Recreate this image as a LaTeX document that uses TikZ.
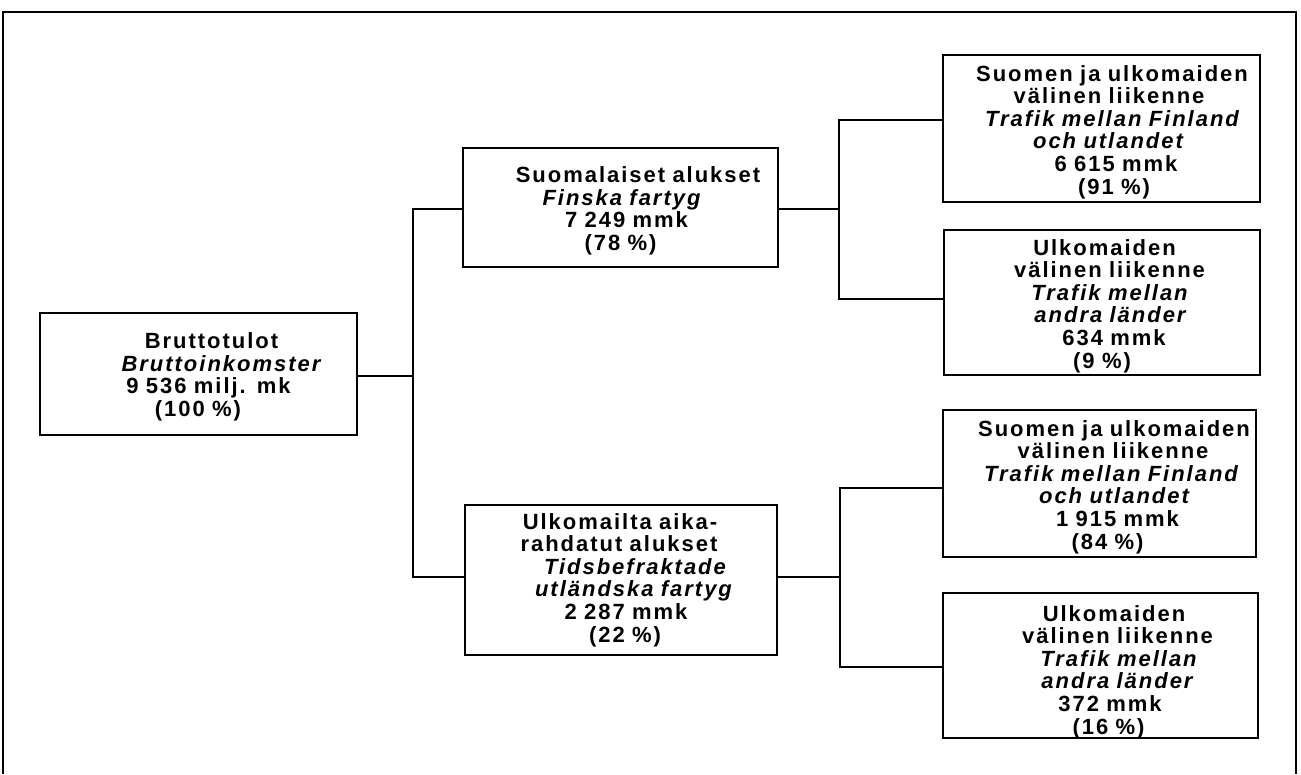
\documentclass[tikz,border=0pt]{standalone}
\usepackage{fontspec}
\setmainfont{Liberation Sans}[LetterSpace=9]
\newcommand{\sh}[2]{{\hspace*{#1pt}#2}}
\begin{document}
\begin{tikzpicture}[x=1pt,y=-1pt,
  boxnode/.style={draw, line width=2.6pt, inner sep=0pt},
  txt/.style={text width=330pt, align=center, inner sep=0pt,
    font=\fontsize{22}{22.6}\selectfont\bfseries},
  conn/.style={line width=2pt}]
\useasboundingbox (0,0) rectangle (1301,774);
\draw[line width=2pt] (3,774) -- (3,12) -- (1296,12) -- (1296,774);
% boxes
\node[boxnode, minimum width=317pt, minimum height=122pt] (root) at (198.5,374) {};
\node[boxnode, minimum width=315pt, minimum height=119pt] (mid1) at (620.5,207.5) {};
\node[boxnode, minimum width=312pt, minimum height=150pt] (mid2) at (621,580) {};
\node[boxnode, minimum width=317pt, minimum height=147pt] (A) at (1101.5,128.5) {};
\node[boxnode, minimum width=316pt, minimum height=145pt] (B) at (1102,302.5) {};
\node[boxnode, minimum width=313pt, minimum height=147pt] (C) at (1099.5,483.5) {};
\node[boxnode, minimum width=315pt, minimum height=145pt] (D) at (1100.5,665.5) {};
% texts
\node[txt] (troot) at (205,377) {\sh{13}{Bruttotulot}\\ \sh{32}{\itshape Bruttoinkomster}\\ \sh{7}{9 536 milj. mk}\\ \sh{-14}{(100 \%)}};
\node[txt] (tmid1) at (625,211) {\sh{26}{Suomalaiset alukset}\\ \sh{-7}{\itshape Finska fartyg}\\ \sh{3}{7 249 mmk}\\ \sh{-9}{(78 \%)}};
\node[txt] (tmid2) at (625,580) {\sh{-10}{Ulkomailta aika-}\\ \sh{-12}{rahdatut alukset}\\ \sh{20}{\itshape Tidsbefraktade}\\ \sh{17}{\itshape utländska fartyg}\\ \sh{2}{2 287 mmk}\\ (22 \%)};
\node[txt] (tA) at (1112,132) {Suomen ja ulkomaiden\\ \sh{-6}{välinen liikenne}\\ \sh{0}{\itshape Trafik mellan Finland}\\ \sh{-8}{\itshape och utlandet}\\ \sh{8}{6 615 mmk}\\ \sh{4}{(91 \%)}};
\node[txt] (tB) at (1108,306) {\sh{-7}{Ulkomaiden}\\ \sh{3}{välinen liikenne}\\ \sh{3}{\itshape Trafik mellan}\\ \sh{4}{\itshape andra länder}\\ \sh{12}{634 mmk}\\ \sh{-12}{(9 \%)}};
\node[txt] (tC) at (1113,487) {\sh{2}{Suomen ja ulkomaiden}\\ välinen liikenne\\ \sh{-4}{\itshape Trafik mellan Finland}\\ \sh{2}{\itshape och utlandet}\\ \sh{9}{1 915 mmk}\\ \sh{-11}{(84 \%)}};
\node[txt] (tD) at (1114,672) {Ulkomaiden\\ \sh{7}{välinen liikenne}\\ \sh{9}{\itshape Trafik mellan}\\ \sh{6}{\itshape andra länder}\\ \sh{-8}{372 mmk}\\ \sh{-11}{(16 \%)}};
% connectors
\coordinate (bus1) at (413,376);
\coordinate (bus2) at (839,209);
\coordinate (bus3) at (840,577);
\draw[conn] ([yshift=-2pt]root.east) -- (bus1);
\draw[conn] ([yshift=-1.5pt]mid1.west) -| (bus1) |- ([yshift=3pt]mid2.west);
\draw[conn] ([yshift=-1.5pt]mid1.east) -- (bus2);
\draw[conn] ([yshift=8.5pt]A.west) -| (bus2) |- ([yshift=3.5pt]B.west);
\draw[conn] ([yshift=3pt]mid2.east) -- (bus3);
\draw[conn] ([yshift=-4.5pt]C.west) -| (bus3) |- ([yshift=-1.5pt]D.west);
\end{tikzpicture}
\end{document}
